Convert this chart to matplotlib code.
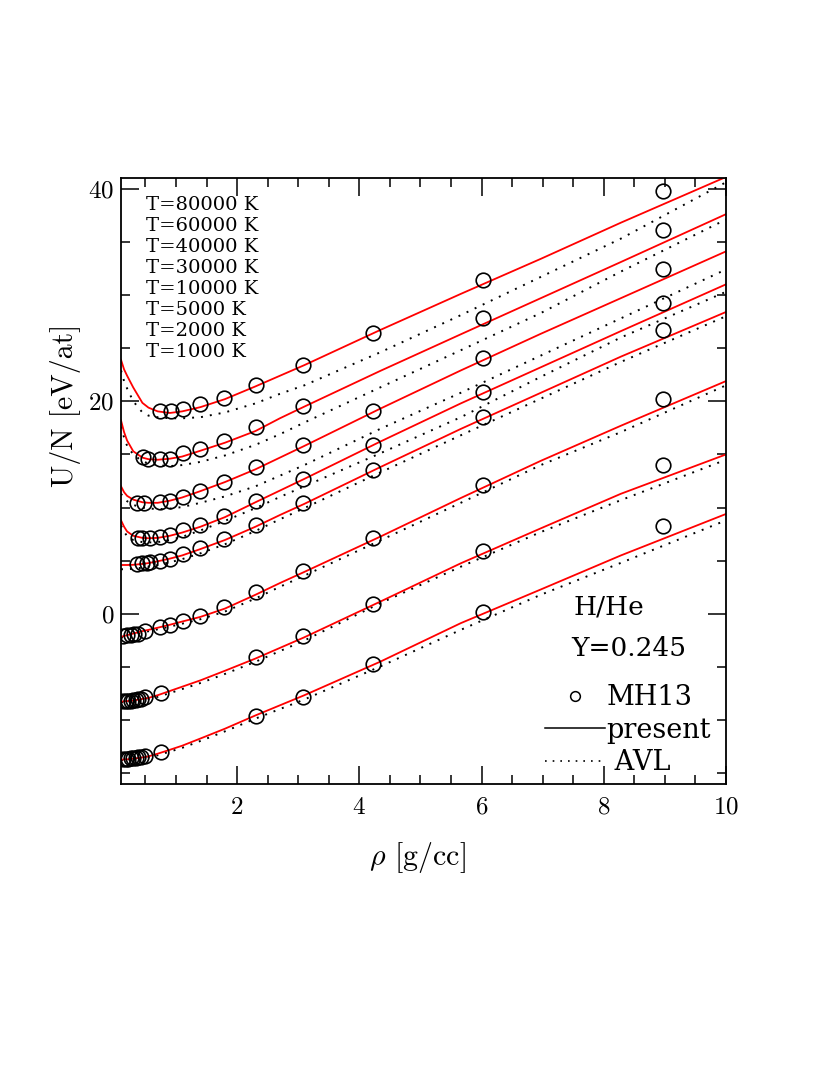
import numpy as np
import matplotlib
matplotlib.use("Agg")
import matplotlib.pyplot as plt
from matplotlib.lines import Line2D
from matplotlib.ticker import MultipleLocator

plt.rcParams['font.family'] = ['cmr10', 'DejaVu Serif']
plt.rcParams['mathtext.fontset'] = 'cm'
plt.rcParams['axes.unicode_minus'] = False
plt.rcParams['axes.formatter.use_mathtext'] = True

# density grid of the model curves (g/cc)
rho = [0.1, 0.15, 0.2, 0.3, 0.45, 0.55, 0.7, 0.9, 1.1, 1.4, 1.8, 2.3, 2.7, 3.1, 4.34, 5.66, 6.97, 8.28, 10.0]

temps = [80000, 60000, 40000, 30000, 10000, 5000, 2000, 1000]

# present work (red solid), U/N in eV/at
present_80k = [23.9, 23.0, 22.4, 21.3, 19.85, 19.4, 19.05, 18.9, 19.05, 19.45, 20.2, 21.4, 22.4, 23.4, 26.7, 30.1, 33.4, 36.8, 41.1]
present_60k = [18.2, 17.1, 16.3, 15.3, 14.7, 14.55, 14.5, 14.6, 14.8, 15.35, 16.1, 17.2, 18.4, 19.5, 22.85, 26.3, 29.7, 33.1, 37.6]
present_40k = [12.0, 11.45, 11.1, 10.75, 10.5, 10.45, 10.45, 10.65, 10.95, 11.55, 12.4, 13.6, 14.7, 15.8, 19.3, 22.9, 26.35, 29.7, 34.1]
present_30k = [8.8, 8.2, 7.75, 7.35, 7.15, 7.12, 7.15, 7.35, 7.65, 8.2, 9.1, 10.5, 11.6, 12.7, 16.2, 19.8, 23.2, 26.6, 31.0]
present_10k = [4.6, 4.6, 4.6, 4.62, 4.7, 4.78, 4.95, 5.2, 5.5, 6.1, 6.95, 8.2, 9.3, 10.35, 13.8, 17.4, 20.8, 24.2, 28.4]
present_5k = [-2.15, -2.08, -2.0, -1.85, -1.62, -1.5, -1.3, -1.02, -0.72, -0.28, 0.5, 1.8, 2.9, 3.95, 7.26, 10.9, 14.4, 17.7, 21.9]
present_2k = [-8.25, -8.22, -8.2, -8.15, -8.0, -7.9, -7.65, -7.25, -6.85, -6.25, -5.35, -4.2, -3.2, -2.2, 1.15, 4.76, 8.05, 11.3, 15.0]
present_1k = [-13.7, -13.69, -13.68, -13.62, -13.5, -13.4, -13.15, -12.78, -12.4, -11.72, -10.8, -9.55, -8.6, -7.65, -4.5, -0.87, 2.3, 5.5, 9.4]

# AVL (black dotted)
avl_80k = [22.9, 21.9, 21.2, 20.0, 18.95, 18.65, 18.5, 18.4, 18.4, 18.5, 18.95, 19.8, 20.7, 21.5, 24.6, 28.1, 31.7, 35.3, 40.6]
avl_60k = [17.6, 16.6, 15.8, 15.0, 14.35, 14.15, 14.0, 13.9, 14.0, 14.3, 14.9, 15.9, 16.9, 18.0, 21.3, 24.8, 28.3, 32.2, 37.1]
avl_40k = [11.3, 10.9, 10.6, 10.25, 10.0, 9.92, 9.85, 9.9, 10.05, 10.45, 11.05, 12.0, 13.0, 14.0, 17.4, 20.8, 24.3, 27.8, 32.4]
avl_30k = [8.3, 7.75, 7.3, 6.95, 6.75, 6.72, 6.75, 6.95, 7.25, 7.85, 8.75, 9.95, 11.0, 12.0, 15.1, 18.5, 22.3, 26.0, 30.3]
avl_10k = [4.2, 4.2, 4.2, 4.25, 4.35, 4.45, 4.6, 4.85, 5.15, 5.7, 6.55, 7.8, 8.9, 9.95, 13.3, 16.8, 20.25, 23.7, 28.0]
avl_5k = [-2.25, -2.18, -2.1, -1.97, -1.77, -1.63, -1.45, -1.2, -0.92, -0.5, 0.22, 1.45, 2.55, 3.6, 6.9, 10.45, 14.0, 17.1, 21.5]
avl_2k = [-8.3, -8.29, -8.27, -8.22, -8.1, -8.0, -7.8, -7.45, -7.07, -6.5, -5.65, -4.5, -3.5, -2.5, 1.0, 4.44, 7.7, 10.7, 14.5]
avl_1k = [-13.75, -13.75, -13.75, -13.7, -13.6, -13.5, -13.3, -12.95, -12.6, -11.95, -11.05, -9.85, -8.95, -8.05, -4.95, -1.5, 1.8, 4.8, 8.8]

# MH13 points (open circles)
mh_x_80k = [0.74, 0.91, 1.12, 1.39, 1.78, 2.31, 3.08, 4.23, 6.02, 8.97]
mh_y_80k = [19.1, 19.1, 19.3, 19.7, 20.3, 21.5, 23.45, 26.45, 31.45, 39.75]
mh_x_60k = [0.46, 0.54, 0.74, 0.90, 1.12, 1.39, 1.78, 2.31, 3.08, 6.02, 8.97]
mh_y_60k = [14.77, 14.6, 14.6, 14.6, 15.1, 15.55, 16.3, 17.6, 19.56, 27.8, 36.1]
mh_x_40k = [0.36, 0.48, 0.74, 0.90, 1.12, 1.39, 1.78, 2.31, 3.08, 4.23, 6.02, 8.97]
mh_y_40k = [10.4, 10.4, 10.55, 10.6, 11.0, 11.6, 12.4, 13.8, 15.9, 19.1, 24.1, 32.4]
mh_x_30k = [0.37, 0.45, 0.57, 0.74, 0.90, 1.12, 1.39, 1.78, 2.31, 3.08, 4.23, 6.02, 8.97]
mh_y_30k = [7.1, 7.1, 7.1, 7.2, 7.45, 7.85, 8.36, 9.2, 10.6, 12.65, 15.9, 20.9, 29.2]
mh_x_10k = [0.36, 0.44, 0.52, 0.58, 0.74, 0.90, 1.12, 1.39, 1.78, 2.31, 3.08, 4.23, 6.02, 8.97]
mh_y_10k = [4.7, 4.75, 4.8, 4.85, 5.0, 5.2, 5.65, 6.2, 7.05, 8.36, 10.4, 13.55, 18.5, 26.7]
mh_x_5k = [0.14, 0.2, 0.26, 0.32, 0.38, 0.49, 0.74, 0.90, 1.12, 1.39, 1.78, 2.31, 3.08, 4.23, 6.02, 8.97]
mh_y_5k = [-2.05, -2.0, -1.95, -1.9, -1.85, -1.6, -1.25, -1.03, -0.63, -0.19, 0.69, 2.05, 4.04, 7.1, 12.1, 20.2]
mh_x_2k = [0.14, 0.18, 0.22, 0.26, 0.3, 0.34, 0.38, 0.42, 0.49, 0.75, 2.31, 3.08, 4.23, 6.02, 8.97]
mh_y_2k = [-8.2, -8.2, -8.18, -8.15, -8.1, -8.08, -8.05, -8.0, -7.85, -7.45, -4.07, -2.1, 0.94, 5.9, 14.05]
mh_x_1k = [0.14, 0.18, 0.22, 0.26, 0.3, 0.34, 0.38, 0.42, 0.49, 0.75, 2.31, 3.08, 4.23, 6.02, 8.97]
mh_y_1k = [-13.65, -13.65, -13.62, -13.6, -13.55, -13.52, -13.5, -13.45, -13.35, -13.0, -9.64, -7.8, -4.7, 0.16, 8.3]

present = [present_80k, present_60k, present_40k, present_30k, present_10k, present_5k, present_2k, present_1k]
avl = [avl_80k, avl_60k, avl_40k, avl_30k, avl_10k, avl_5k, avl_2k, avl_1k]
mh_x = [mh_x_80k, mh_x_60k, mh_x_40k, mh_x_30k, mh_x_10k, mh_x_5k, mh_x_2k, mh_x_1k]
mh_y = [mh_y_80k, mh_y_60k, mh_y_40k, mh_y_30k, mh_y_10k, mh_y_5k, mh_y_2k, mh_y_1k]

dots = (0, (1.0, 3.6))
label_font = 'DejaVu Serif'

fig = plt.figure(figsize=(8.3, 10.75), dpi=100)
ax = fig.add_axes([0.1458, 0.2707, 0.7289, 0.5637])

for i in range(len(temps)):
    ax.plot(rho, avl[i], color='black', lw=1.4, ls=dots)
    ax.plot(rho, present[i], color='red', lw=1.3)
    ax.plot(mh_x[i], mh_y[i], 'o', ms=10.5, mfc='none', mec='black', mew=1.2)

ax.set_xlim(0.1, 10)
ax.set_ylim(-16, 41)
ax.xaxis.set_major_locator(MultipleLocator(2))
ax.xaxis.set_minor_locator(MultipleLocator(0.5))
ax.yaxis.set_major_locator(MultipleLocator(20))
ax.yaxis.set_minor_locator(MultipleLocator(5))
ax.tick_params(which='both', direction='in', top=True, right=True, labelsize=18, width=1.1)
ax.tick_params(which='major', length=13)
ax.tick_params(which='minor', length=6.5)
ax.tick_params(axis='x', which='major', pad=9)
ax.tick_params(axis='y', which='major', pad=5)
for s in ax.spines.values():
    s.set_linewidth(1.3)

ax.set_xlabel(r'$\rho$ [g/cc]', fontsize=21.5)
ax.set_ylabel('U/N [eV/at]', fontsize=21.5)
ax.xaxis.set_label_coords(0.49, -0.093)
ax.yaxis.set_label_coords(-0.066, 0.625)

for i, t in enumerate(temps):
    ax.text(0.041, 0.955 - i * 0.0347, 'T=%d K' % t, transform=ax.transAxes,
            fontsize=14, family=label_font, va='center', ha='left')

ax.text(0.748, 0.292, 'H/He', transform=ax.transAxes, fontsize=19,
        family=label_font, va='center')
ax.text(0.744, 0.224, 'Y=0.245', transform=ax.transAxes, fontsize=19,
        family=label_font, va='center')

handles = [Line2D([], [], ls='none', marker='o', ms=7, mfc='none', mec='black', mew=1.1),
           Line2D([], [], color='black', lw=1.1),
           Line2D([], [], color='black', lw=1.2, ls=dots)]
ax.legend(handles, ['MH13', 'present', ' AVL'], loc='lower right', frameon=False,
          prop={'family': label_font, 'size': 19.5}, handlelength=2.2,
          handletextpad=0.05, labelspacing=0.2, borderpad=0, borderaxespad=0,
          bbox_to_anchor=(0.975, 0.013))

fig.savefig('out.png', dpi=100)
